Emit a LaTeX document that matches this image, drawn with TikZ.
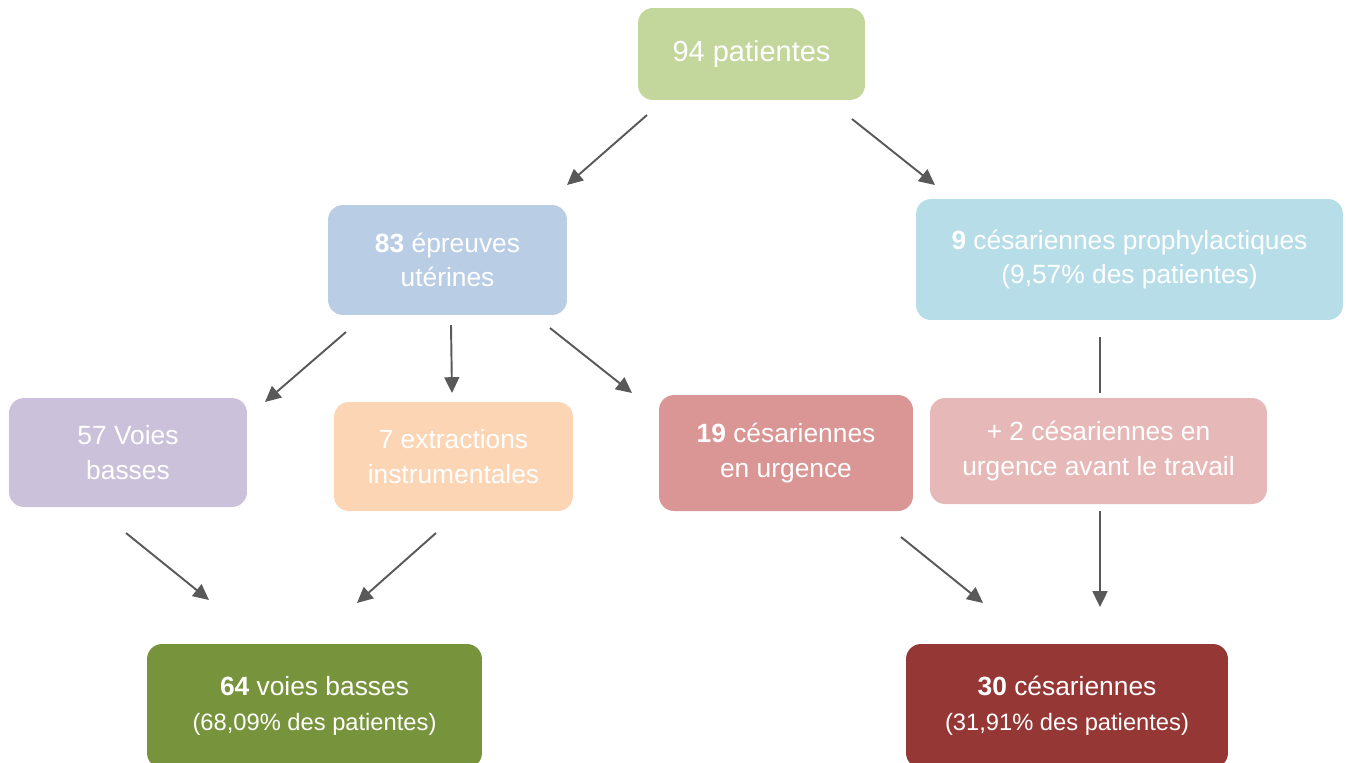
\documentclass[tikz,border=0pt]{standalone}
\usepackage{fontspec}
\setmainfont{Liberation Sans}
\usetikzlibrary{arrows.meta}

\definecolor{patgreen}{HTML}{C3D69B}
\definecolor{eprblue}{HTML}{B9CDE5}
\definecolor{prophcyan}{HTML}{B7DEE8}
\definecolor{vblilac}{HTML}{CCC1DA}
\definecolor{extpeach}{HTML}{FCD5B5}
\definecolor{urgrose}{HTML}{D99694}
\definecolor{avtrose}{HTML}{E6B9B8}
\definecolor{vbolive}{HTML}{77933C}
\definecolor{cesred}{HTML}{953735}
\definecolor{arrgray}{HTML}{595959}

\begin{document}
\begin{tikzpicture}[x=0.02cm,y=-0.02cm,
  box/.style={rounded corners=0.3cm,text=white,align=center,inner sep=0pt,
    font=\fontsize{15}{19.8}\selectfont},
  flow/.style={draw=arrgray,line width=1.1pt,-{Triangle[length=9pt,width=8.5pt]}}]

  \useasboundingbox (0,0) rectangle (1346,762);

  \node [box,fill=patgreen,minimum width=4.54cm,minimum height=1.84cm,
    font=\fontsize{16.5}{19.8}\selectfont] (pat) at (751.5,54) {94 patientes};
  \node [box,fill=eprblue,minimum width=4.78cm,minimum height=2.2cm] (epr) at (447.5,260)
    {\textbf{83} épreuves\\utérines};
  \node [box,fill=prophcyan,minimum width=8.54cm,minimum height=2.42cm] (proph) at (1129.5,259.5)
    {\textbf{9} césariennes prophylactiques\\(9,57\% des patientes)};
  \node [box,fill=vblilac,minimum width=4.76cm,minimum height=2.18cm] (vb57) at (128,452.5)
    {57 Voies\\basses};
  \node [box,fill=extpeach,minimum width=4.78cm,minimum height=2.18cm] (ext) at (453.5,456.5)
    {7 extractions\\instrumentales};
  \node [box,fill=urgrose,minimum width=5.08cm,minimum height=2.32cm] (urg) at (786,453)
    {\textbf{19} césariennes\\en urgence};
  \node [box,fill=avtrose,minimum width=6.74cm,minimum height=2.12cm] (avt) at (1098.5,451)
    {+ 2 césariennes en\\urgence avant le travail};
  \node [box,fill=vbolive,minimum width=6.7cm,minimum height=2.48cm] (vb64) at (314.5,706)
    {\textbf{64} voies basses\\{\fontsize{13.5}{19.8}\selectfont (68,09\% des patientes)}};
  \node [box,fill=cesred,minimum width=6.44cm,minimum height=2.48cm] (ces30) at (1067,706)
    {\textbf{30} césariennes\\{\fontsize{13.5}{19.8}\selectfont (31,91\% des patientes)}};

  % arrow ends
  \coordinate (pat-l) at (647,115);   \coordinate (epr-in) at (567,185);
  \coordinate (pat-r) at (852,119);   \coordinate (proph-in) at (935,185);
  \coordinate (epr-l) at (346,332);   \coordinate (vb57-in) at (265,402);
  \coordinate (epr-m) at (451,325);   \coordinate (ext-in) at (452,393);
  \coordinate (epr-r) at (550,328);   \coordinate (urg-in) at (632,393);
  \coordinate (proph-b) at (1100,337); \coordinate (avt-in) at (1100,393);
  \coordinate (vb57-b) at (126,533);  \coordinate (vb64-l) at (209,600);
  \coordinate (ext-b) at (436,533);   \coordinate (vb64-r) at (357,603);
  \coordinate (urg-b) at (901,537);   \coordinate (ces30-l) at (983,603);
  \coordinate (avt-b) at (1100,511);  \coordinate (ces30-r) at (1100,607);

  \draw [flow] (pat-l) -- (epr-in);
  \draw [flow] (pat-r) -- (proph-in);
  \draw [flow] (epr-l) -- (vb57-in);
  \draw [flow] (epr-m) -- (ext-in);
  \draw [flow] (epr-r) -- (urg-in);
  \draw [draw=arrgray,line width=1.1pt] (proph-b) -- (avt-in);
  \draw [flow] (vb57-b) -- (vb64-l);
  \draw [flow] (ext-b) -- (vb64-r);
  \draw [flow] (urg-b) -- (ces30-l);
  \draw [flow] (avt-b) -- (ces30-r);
\end{tikzpicture}
\end{document}
